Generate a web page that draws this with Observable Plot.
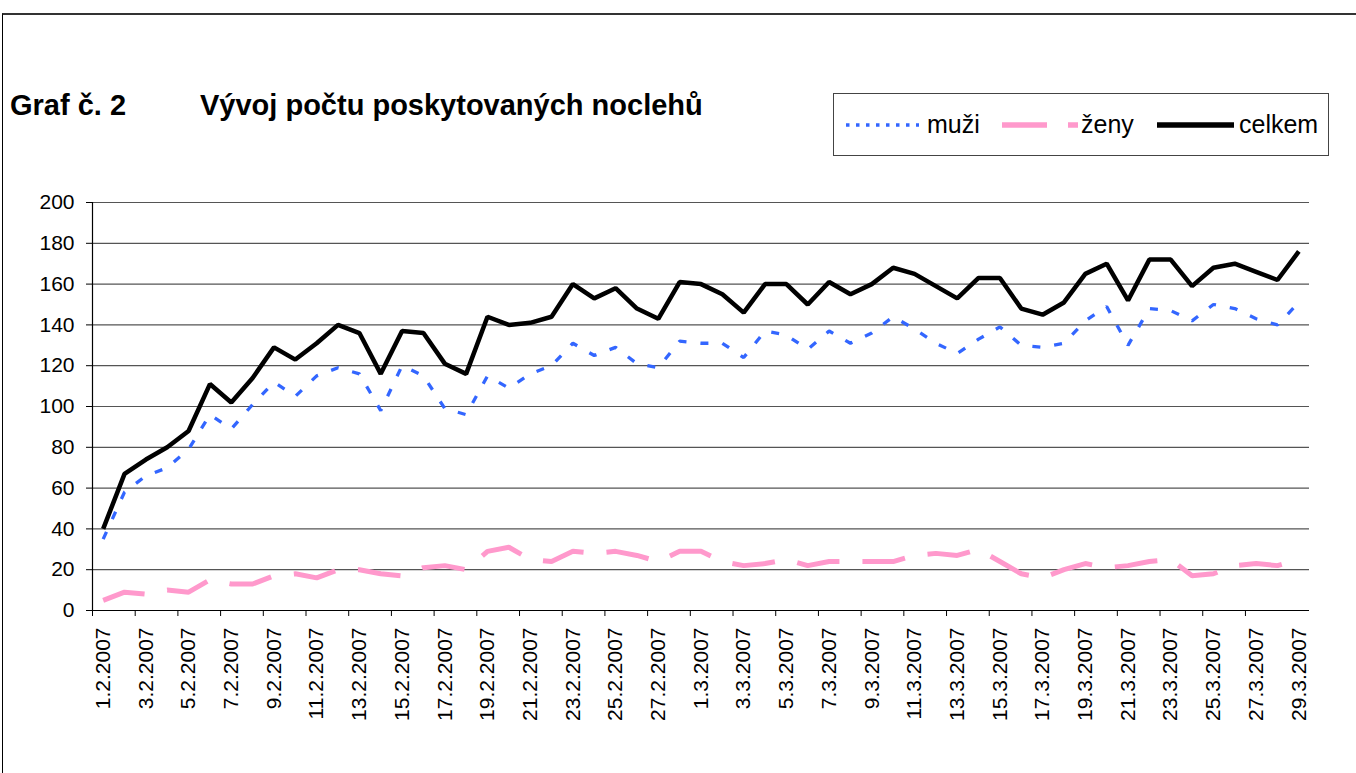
<!DOCTYPE html>
<html>
<head>
<meta charset="utf-8">
<script src="https://cdn.jsdelivr.net/npm/d3@7"></script>
<script src="https://cdn.jsdelivr.net/npm/@observablehq/plot@0.6"></script>
<style>
  html, body { margin: 0; padding: 0; background: #fff; overflow: hidden; }
  body { width: 1356px; height: 773px; position: relative; font-family: "Liberation Sans", Arial, sans-serif; color: #000; }
  #frame { position: absolute; left: 2px; top: 13px; width: 1400px; height: 800px; border-top: 2px solid #333; border-left: 1px solid #000; box-sizing: border-box; }
  #header { position: absolute; left: 0; top: 0; width: 1356px; height: 170px; }
  .title { position: absolute; top: 90.5px; font-size: 29px; font-weight: bold; line-height: 1; white-space: nowrap; }
  #legend { position: absolute; left: 833px; top: 93px; width: 496px; height: 63px; box-sizing: border-box; border: 1.5px solid #444; background: #fff; }
  .lg { position: absolute; font-size: 25px; line-height: 1; top: 18px; white-space: nowrap; }
  #chart { position: absolute; left: 0; top: 170px; }
</style>
</head>
<body>
<div id="frame"></div>
<div id="header">
  <div class="title" id="t1" style="left:10px"></div>
  <div class="title" id="t2" style="left:200px"></div>
  <div id="legend"></div>
</div>
<div id="chart"></div>
<script>
// ---- data ----
const dates = [
  "1.2.2007","2.2.2007","3.2.2007","4.2.2007","5.2.2007","6.2.2007","7.2.2007","8.2.2007","9.2.2007","10.2.2007",
  "11.2.2007","12.2.2007","13.2.2007","14.2.2007","15.2.2007","16.2.2007","17.2.2007","18.2.2007","19.2.2007","20.2.2007",
  "21.2.2007","22.2.2007","23.2.2007","24.2.2007","25.2.2007","26.2.2007","27.2.2007","28.2.2007",
  "1.3.2007","2.3.2007","3.3.2007","4.3.2007","5.3.2007","6.3.2007","7.3.2007","8.3.2007","9.3.2007","10.3.2007",
  "11.3.2007","12.3.2007","13.3.2007","14.3.2007","15.3.2007","16.3.2007","17.3.2007","18.3.2007","19.3.2007","20.3.2007",
  "21.3.2007","22.3.2007","23.3.2007","24.3.2007","25.3.2007","26.3.2007","27.3.2007","28.3.2007","29.3.2007"
];
const muzi = [35,58,66,70,79,96,89,101,112,105,115,119,116,98,120,115,99,96,115,109,116,120,131,125,129,121,119,132,131,131,124,137,135,128,137,131,136,144,138,131,126,133,139,130,129,131,142,149,130,148,147,142,150,148,143,140,151];
const zeny = [5,9,8,10,9,15,13,13,17,18,16,20,20,18,17,21,22,20,29,31,25,24,29,28,29,27,24,29,29,24,22,23,25,22,24,24,24,24,27,28,27,30,24,18,16,20,23,21,22,24,25,17,18,22,23,22,25];
const celkem = [40,67,74,80,88,111,102,114,129,123,131,140,136,116,137,136,121,116,144,140,141,144,160,153,158,148,143,161,160,155,146,160,160,150,161,155,160,168,165,159,153,163,163,148,145,151,165,170,152,172,172,159,168,170,166,162,176];
const seriesNames = ["muži", "ženy", "celkem"];
const yTicks = [0,20,40,60,80,100,120,140,160,180,200];
const titleLabel = "Graf č. 2";
const titleText = "Vývoj počtu poskytovaných noclehů";

// ---- styles ----
const colors = {"muži": "#3366FF", "ženy": "#FF99CC", "celkem": "#000000"};
const widths = {"muži": 3.3, "ženy": 5, "celkem": 4.5};
const dashes = {"muži": "8 14", "ženy": "43 23", "celkem": null};

document.getElementById("t1").textContent = titleLabel;
document.getElementById("t2").textContent = titleText;

const rows = dates.map((date, i) => ({i, date, "muži": muzi[i], "ženy": zeny[i], "celkem": celkem[i]}));
const n = dates.length;
const labelIdx = d3.range(0, n, 2);
const boundaryTicks = d3.range(0, n - 1, 2).map(i => i - 0.5);

const lineMarks = ["ženy", "muži", "celkem"].map(s => Plot.lineY(rows, {
  x: "i", y: s, stroke: colors[s], strokeWidth: widths[s],
  strokeDasharray: dashes[s] || undefined, strokeLinejoin: "miter", strokeLinecap: "butt"
}));

const chart = Plot.plot({
  width: 1356, height: 603,
  marginLeft: 92, marginRight: 47, marginTop: 32, marginBottom: 163,
  style: {fontFamily: "'Liberation Sans', Arial, sans-serif", fontSize: "21px", color: "#000", background: "transparent", overflow: "visible"},
  x: {type: "linear", domain: [-0.5, n - 0.5], label: null},
  y: {domain: [0, 200], label: null},
  marks: [
    Plot.ruleY(yTicks.filter(v => v > 0), {stroke: "#555", strokeWidth: 1.2}),
    Plot.axisY({ticks: yTicks, tickSize: 6, tickPadding: 12, fontSize: 21, label: null, tickFormat: d => String(d)}),
    Plot.axisX({ticks: boundaryTicks, tickSize: 6, label: null, tickFormat: () => ""}),
    Plot.axisX({ticks: labelIdx, tickSize: 0, tickPadding: 17, tickRotate: -90, fontSize: 21, label: null, tickFormat: i => dates[i]}),
    Plot.ruleX([-0.5], {stroke: "#000", strokeWidth: 1.2}),
    Plot.ruleY([0], {stroke: "#000", strokeWidth: 1.2}),
    ...lineMarks
  ]
});
document.getElementById("chart").appendChild(chart);

// ---- legend ----
const legend = document.getElementById("legend");
const legendPos = {"muži": {sx: 12, sw: 73, tx: 93}, "ženy": {sx: 168, sw: 76, tx: 247}, "celkem": {sx: 323, sw: 77, tx: 405}};
seriesNames.forEach(s => {
  const p = legendPos[s];
  const svg = d3.create("svg").attr("width", p.sw).attr("height", 12)
    .style("position", "absolute").style("left", p.sx + "px").style("top", "25px");
  svg.append("line").attr("x1", 0).attr("x2", p.sw).attr("y1", 6).attr("y2", 6)
    .attr("stroke", colors[s]).attr("stroke-width", s === "muži" ? 3.5 : 5.5)
    .attr("stroke-dasharray", s === "muži" ? "3.5 6.5" : s === "ženy" ? "45 21" : null);
  legend.appendChild(svg.node());
  const t = document.createElement("div");
  t.className = "lg"; t.style.left = p.tx + "px"; t.textContent = s;
  legend.appendChild(t);
});
</script>
</body>
</html>
